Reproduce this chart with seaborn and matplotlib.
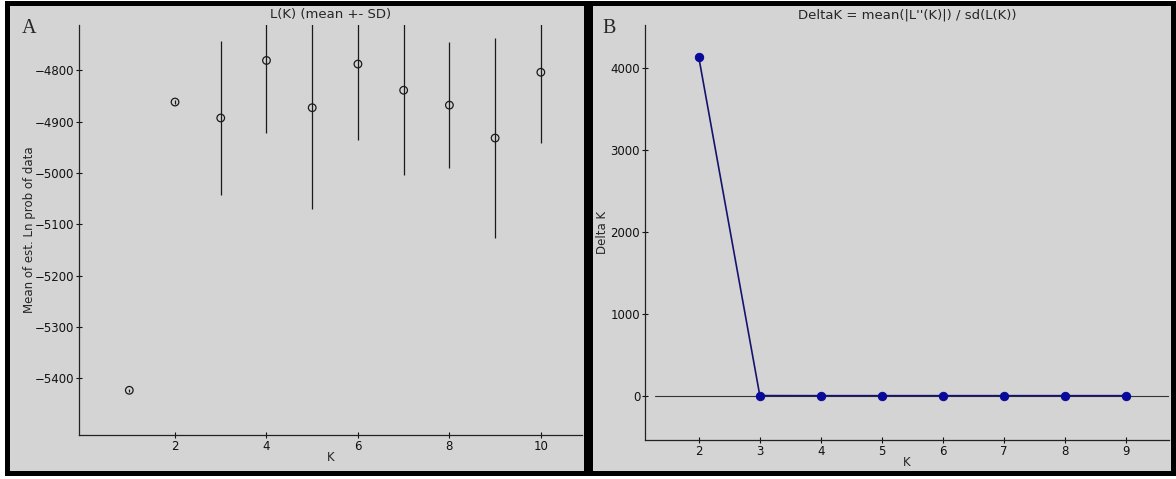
import matplotlib
matplotlib.use("Agg")
import matplotlib.pyplot as plt
import seaborn as sns
import pandas as pd
from matplotlib.patches import Rectangle

# ---- data ----
K_left = [1, 2, 3, 4, 5, 6, 7, 8, 9, 10]
mean_lnp = [-5423, -4862, -4893, -4781, -4873, -4788, -4839, -4868, -4932, -4804]
sd_lnp = [3, 4, 150, 141, 197, 148, 165, 122, 194, 138]

K_right = [2, 3, 4, 5, 6, 7, 8, 9]
delta_k = [4134, 2, 1, 1, 1, 1, 1, 1]

left_xticks = [2, 4, 6, 8, 10]
left_yticks = [-5400, -5300, -5200, -5100, -5000, -4900, -4800]
right_xticks = [2, 3, 4, 5, 6, 7, 8, 9]
right_yticks = [0, 1000, 2000, 3000, 4000]

sns.set_theme(style="ticks")
plt.rcParams['font.family'] = ['DejaVu Sans']

W, H = 1176, 479
bg = "#d4d4d4"
fig = plt.figure(figsize=(W / 100, H / 100), dpi=100)
fig.patch.set_facecolor("white")

def fx(px):
    return px / W

def fy(py):
    return 1 - py / H

# panel frames
for x0, x1 in [(6.5, 585.5), (589.5, 1173)]:
    fig.patches.append(Rectangle((fx(x0), fy(473)), fx(x1) - fx(x0), fy(3) - fy(473),
                                 transform=fig.transFigure, facecolor=bg,
                                 edgecolor="black", linewidth=3.6, zorder=-10))

def make_ax(l, r, t, b):
    ax = fig.add_axes([fx(l), fy(b), fx(r) - fx(l), fy(t) - fy(b)])
    ax.set_facecolor(bg)
    for s in ["top", "right"]:
        ax.spines[s].set_visible(False)
    for s in ["left", "bottom"]:
        ax.spines[s].set_color("#222222")
        ax.spines[s].set_linewidth(0.9)
    ax.tick_params(direction="inout", length=5, width=0.8, labelsize=8.5,
                   colors="#111111", pad=1)
    return ax

# ---- Panel A ----
axA = make_ax(79, 582, 25, 435)
dfA = pd.DataFrame({"K": K_left, "mean": mean_lnp, "sd": sd_lnp})
axA.errorbar(dfA["K"], dfA["mean"], yerr=dfA["sd"], fmt="none",
             ecolor="#1a1a1a", elinewidth=0.9, capsize=0)
sns.scatterplot(data=dfA, x="K", y="mean", ax=axA, marker="o", s=30,
                facecolor="none", edgecolor="#1a1a1a", linewidth=0.9, zorder=3)
axA.set_xlim(-0.1, 10.9)
axA.set_ylim(-5510, -4712)
axA.set_xticks(left_xticks)
axA.set_yticks(left_yticks)
axA.set_yticklabels([f"\u2212{abs(v)}" for v in left_yticks])
axA.set_xlabel("K", fontsize=8.5, labelpad=-1)
axA.set_ylabel("Mean of est. Ln prob of data", fontsize=8.5, labelpad=-1)
axA.set_title("L(K) (mean +- SD)", fontsize=9.5, pad=5)
fig.text(fx(22), fy(33), "A", fontsize=14.5, family="Liberation Serif", va="baseline")

# ---- Panel B ----
axB = make_ax(645, 1169, 25, 440)
dfB = pd.DataFrame({"K": K_right, "DeltaK": delta_k})
axB.axhline(0, xmin=0.02, xmax=1.0, color="#333333", linewidth=0.8, zorder=1)
sns.lineplot(data=dfB, x="K", y="DeltaK", ax=axB, color="#14146e",
             linewidth=1.2, marker="o", markersize=6, markerfacecolor="#0a0a9a",
             markeredgecolor="#0a0a9a", zorder=3)
axB.set_xlim(1.12, 9.7)
axB.set_ylim(-540, 4525)
axB.set_xticks(right_xticks)
axB.set_yticks(right_yticks)
axB.set_xlabel("K", fontsize=8.5, labelpad=-1)
axB.set_ylabel("Delta K", fontsize=8.5, labelpad=1)
axB.set_title("DeltaK = mean(|L''(K)|) / sd(L(K))", fontsize=9.5, pad=5)
fig.text(fx(602), fy(33), "B", fontsize=14.5, family="Liberation Serif", va="baseline")

fig.savefig("out.png", dpi=100, facecolor=fig.get_facecolor())
